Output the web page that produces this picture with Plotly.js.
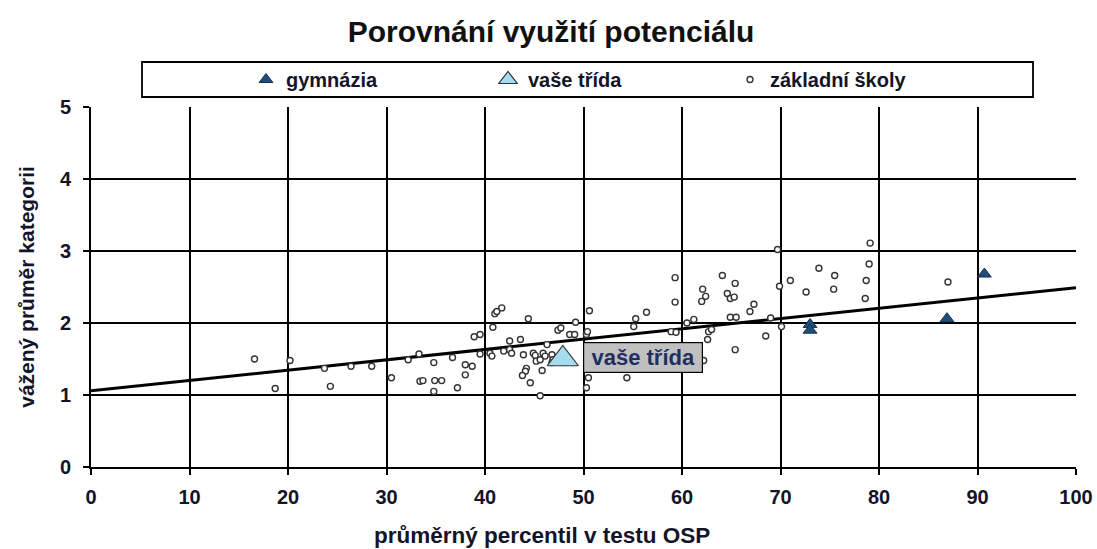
<!DOCTYPE html>
<html>
<head>
<meta charset="utf-8">
<script src="https://cdn.plot.ly/plotly-3.0.1.min.js"></script>
<style>
  html, body { margin: 0; padding: 0; background: #ffffff; }
  #chart { width: 1097px; height: 549px; }
</style>
</head>
<body>
<div id="chart"></div>
<script>
// ---- data ----
const zsX = [16.6, 18.7, 20.2, 23.7, 24.3, 26.4, 28.5, 30.5, 32.2, 33.3, 33.4, 33.7, 34.8, 34.9, 35.6, 34.8,
  36.7, 37.2, 38.0, 38.7, 38.0, 39.5, 38.9, 39.5, 40.5, 40.7, 40.8, 41.0, 41.2, 41.7, 41.9, 42.5, 42.7, 42.5,
  43.6, 43.9, 44.4, 44.2, 44.1, 43.8, 44.6, 44.9, 45.1, 45.2, 45.6, 45.8, 45.9, 46.1, 45.6, 46.3, 46.8, 46.9,
  46.8, 47.4, 47.7, 47.8, 48.6, 49.1, 49.2, 50.3, 50.4, 50.6, 50.5, 50.3, 54.4, 55.1, 55.3, 56.4, 58.9, 59.4,
  59.3, 59.3, 60.5, 61.2, 62.0, 62.4, 62.1, 62.7, 63.0, 62.6, 62.2, 64.1, 64.6, 64.9, 65.3, 65.4, 64.9, 65.5,
  65.4, 66.9, 67.3, 68.5, 69.0, 69.7, 69.9, 70.1, 71.0, 72.6, 73.9, 75.5, 75.4, 78.6, 78.7, 79.0, 79.1, 87.0];
const zsY = [1.50, 1.09, 1.48, 1.37, 1.12, 1.40, 1.40, 1.24, 1.49, 1.57, 1.19, 1.20, 1.45, 1.20, 1.20, 1.05,
  1.52, 1.10, 1.42, 1.40, 1.28, 1.57, 1.81, 1.84, 1.58, 1.54, 1.94, 2.13, 2.16, 2.21, 1.61, 1.63, 1.58, 1.75,
  1.77, 1.56, 2.06, 1.37, 1.33, 1.27, 1.17, 1.58, 1.55, 1.47, 0.99, 1.34, 1.58, 1.54, 1.49, 1.70, 1.56, 1.49,
  1.45, 1.90, 1.93, 1.59, 1.84, 1.84, 2.01, 1.84, 1.88, 2.17, 1.24, 1.10, 1.24, 1.95, 2.06, 2.15, 1.88, 1.87,
  2.29, 2.63, 2.00, 2.05, 2.30, 2.37, 2.47, 1.88, 1.91, 1.77, 1.48, 2.66, 2.41, 2.34, 2.36, 2.55, 2.08, 2.08,
  1.63, 2.16, 2.26, 1.82, 2.07, 3.02, 2.51, 1.95, 2.59, 2.43, 2.76, 2.66, 2.47, 2.34, 2.59, 2.82, 3.11, 2.57];

const gymX = [73.0, 73.0, 86.9, 90.7];
const gymY = [1.98, 1.90, 2.06, 2.68];

const classX = [47.9];
const classY = [1.50];

const trendX = [0, 100];
const trendY = [1.06, 2.49];

const seriesNames = ['gymnázia', 'vaše třída', 'základní školy'];
const chartTitle = 'Porovnání využití potenciálu';
const xTitle = 'průměrný percentil v testu OSP';
const yTitle = 'vážený průměr kategorii';
const classLabel = 'vaše třída';

// ---- drawing ----
const FONT = 'Arial, "Liberation Sans", sans-serif';
const TXT = '#141428';

const traces = [
  {
    x: trendX, y: trendY, type: 'scatter', mode: 'lines',
    line: { color: '#000000', width: 3 },
    showlegend: false, hoverinfo: 'skip'
  },
  {
    name: seriesNames[2], x: zsX, y: zsY, type: 'scatter', mode: 'markers',
    marker: { symbol: 'circle', size: 6, color: '#ffffff', line: { color: '#333333', width: 1.4 } },
    legendrank: 3
  },
  {
    name: seriesNames[0], x: gymX, y: gymY, type: 'scatter', mode: 'markers',
    marker: { symbol: 'triangle-up', size: 12, color: '#1f4e79', line: { color: '#16324f', width: 1 } },
    legendrank: 1
  },
  {
    name: seriesNames[1], x: classX, y: classY, type: 'scatter', mode: 'markers',
    marker: { symbol: 'triangle-up', size: 27, color: '#a6dcf2', line: { color: '#333333', width: 1.2 } },
    legendrank: 2
  }
];

const px2xp = p => (p - 91) / 985;
const py2yp = p => (467 - p) / 360;

const layout = {
  width: 1097, height: 549,
  paper_bgcolor: '#ffffff', plot_bgcolor: '#ffffff',
  margin: { l: 91, r: 21, t: 107, b: 82, pad: 0 },
  font: { family: FONT, color: TXT },
  title: {
    text: chartTitle, xref: 'paper', x: px2xp(551), xanchor: 'center',
    yref: 'container', y: 1 - 31 / 549, yanchor: 'middle',
    font: { family: FONT, size: 30, weight: 'bold', color: '#111111' }
  },
  xaxis: {
    range: [0, 100], dtick: 10, tick0: 0, fixedrange: true,
    showgrid: true, gridcolor: '#000000', gridwidth: 2,
    zeroline: false,
    showline: true, linecolor: '#000000', linewidth: 2,
    ticks: 'outside', ticklen: 6, tickwidth: 2, tickcolor: '#000000',
    ticklabelstandoff: 5,
    tickfont: { family: FONT, size: 20, weight: 'bold', color: TXT },
    automargin: false
  },
  yaxis: {
    range: [0, 5], dtick: 1, tick0: 0, fixedrange: true,
    showgrid: true, gridcolor: '#000000', gridwidth: 2,
    zeroline: false,
    showline: true, linecolor: '#000000', linewidth: 2,
    ticks: 'outside', ticklen: 6, tickwidth: 2, tickcolor: '#000000',
    ticklabelstandoff: 8,
    tickfont: { family: FONT, size: 20, weight: 'bold', color: TXT },
    title: { text: yTitle, standoff: 20, font: { family: FONT, size: 21, weight: 'bold', color: TXT } },
    automargin: false
  },
  showlegend: true,
  legend: {
    orientation: 'h', traceorder: 'normal',
    x: px2xp(246), xanchor: 'left',
    y: py2yp(79.5), yanchor: 'middle',
    bgcolor: 'rgba(0,0,0,0)', borderwidth: 0,
    entrywidth: 197, entrywidthmode: 'pixels',
    itemsizing: 'trace', itemclick: false, itemdoubleclick: false,
    font: { family: FONT, size: 20, weight: 'bold', color: TXT }
  },
  shapes: [
    {
      type: 'rect', xref: 'paper', yref: 'paper',
      x0: px2xp(142), x1: px2xp(1033), y0: py2yp(97), y1: py2yp(62),
      line: { color: '#000000', width: 1.8 }, fillcolor: 'rgba(0,0,0,0)', layer: 'above'
    }
  ],
  annotations: [
    {
      text: classLabel, xref: 'x', yref: 'y', x: 49.95, y: 1.525,
      xanchor: 'left', yanchor: 'middle', showarrow: false,
      bgcolor: '#c0c0c0', bordercolor: '#000000', borderwidth: 1.2, borderpad: 1,
      width: 116, height: 27,
      font: { family: FONT, size: 22, weight: 'bold', color: '#1e2f63' }
    },
    {
      text: xTitle, xref: 'paper', yref: 'paper', x: px2xp(542), y: py2yp(535),
      xanchor: 'center', yanchor: 'middle', showarrow: false,
      font: { family: FONT, size: 22.5, weight: 'bold', color: TXT }
    }
  ]
};

Plotly.newPlot('chart', traces, layout, { displayModeBar: false, staticPlot: true });
</script>
</body>
</html>
